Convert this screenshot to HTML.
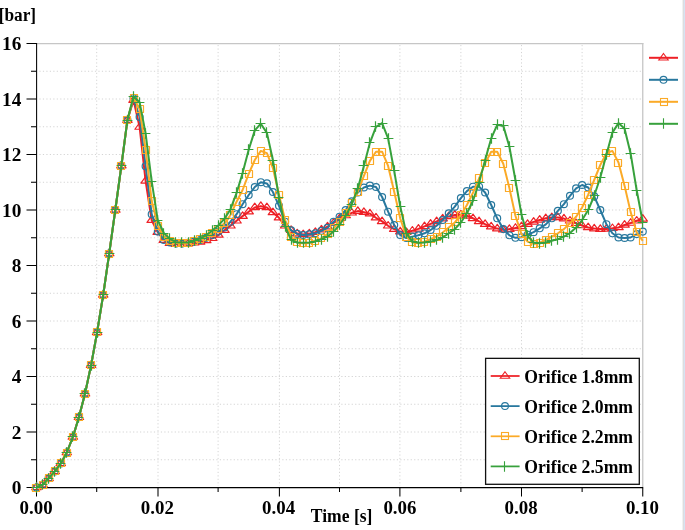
<!DOCTYPE html>
<html><head><meta charset="utf-8"><title>Pressure plot</title>
<style>
html,body{margin:0;padding:0;background:#fff;}
body{width:685px;height:530px;overflow:hidden;}
svg{display:block;}
text{font-family:"Liberation Serif","DejaVu Serif",serif;font-weight:bold;font-size:17.5px;fill:#000;}
</style></head><body>
<svg width="685" height="530" viewBox="0 0 685 530">
<rect x="0" y="0" width="685" height="530" fill="#ffffff"/>
<rect x="682" y="0" width="1" height="530" fill="#f1f1f1"/>
<rect x="683" y="0" width="1" height="530" fill="#dcdde0"/>
<rect x="684" y="0" width="1" height="530" fill="#d6e3f3"/>
<g stroke="#d4d4d4" stroke-width="1" stroke-dasharray="1.2 2.27" fill="none"><line x1="39.4" y1="459.75" x2="642" y2="459.75"/><line x1="39.4" y1="432.00" x2="642" y2="432.00"/><line x1="39.4" y1="404.25" x2="642" y2="404.25"/><line x1="39.4" y1="376.50" x2="642" y2="376.50"/><line x1="39.4" y1="348.75" x2="642" y2="348.75"/><line x1="39.4" y1="321.00" x2="642" y2="321.00"/><line x1="39.4" y1="293.25" x2="642" y2="293.25"/><line x1="39.4" y1="265.50" x2="642" y2="265.50"/><line x1="39.4" y1="237.75" x2="642" y2="237.75"/><line x1="39.4" y1="210.00" x2="642" y2="210.00"/><line x1="39.4" y1="182.25" x2="642" y2="182.25"/><line x1="39.4" y1="154.50" x2="642" y2="154.50"/><line x1="39.4" y1="126.75" x2="642" y2="126.75"/><line x1="39.4" y1="99.00" x2="642" y2="99.00"/><line x1="39.4" y1="71.25" x2="642" y2="71.25"/><line x1="96.70" y1="45" x2="96.70" y2="486"/><line x1="158.00" y1="45" x2="158.00" y2="486"/><line x1="218.10" y1="45" x2="218.10" y2="486"/><line x1="279.40" y1="45" x2="279.40" y2="486"/><line x1="339.50" y1="45" x2="339.50" y2="486"/><line x1="399.90" y1="45" x2="399.90" y2="486"/><line x1="460.88" y1="45" x2="460.88" y2="486"/><line x1="521.50" y1="45" x2="521.50" y2="486"/><line x1="582.12" y1="45" x2="582.12" y2="486"/></g>
<g stroke="#c6c6c6" stroke-width="1.3" fill="none"><line x1="37" y1="43.6" x2="643.4" y2="43.6"/><line x1="642.75" y1="43" x2="642.75" y2="487"/></g>
<g stroke="#000" stroke-width="1.05" fill="none"><line x1="36.6" y1="43" x2="36.6" y2="488"/><line x1="36" y1="487.6" x2="643.2" y2="487.6"/><line x1="26.5" y1="487.50" x2="36.6" y2="487.50"/><line x1="31" y1="459.75" x2="36.6" y2="459.75"/><line x1="26.5" y1="432.00" x2="36.6" y2="432.00"/><line x1="31" y1="404.25" x2="36.6" y2="404.25"/><line x1="26.5" y1="376.50" x2="36.6" y2="376.50"/><line x1="31" y1="348.75" x2="36.6" y2="348.75"/><line x1="26.5" y1="321.00" x2="36.6" y2="321.00"/><line x1="31" y1="293.25" x2="36.6" y2="293.25"/><line x1="26.5" y1="265.50" x2="36.6" y2="265.50"/><line x1="31" y1="237.75" x2="36.6" y2="237.75"/><line x1="26.5" y1="210.00" x2="36.6" y2="210.00"/><line x1="31" y1="182.25" x2="36.6" y2="182.25"/><line x1="26.5" y1="154.50" x2="36.6" y2="154.50"/><line x1="31" y1="126.75" x2="36.6" y2="126.75"/><line x1="26.5" y1="99.00" x2="36.6" y2="99.00"/><line x1="31" y1="71.25" x2="36.6" y2="71.25"/><line x1="26.5" y1="43.50" x2="36.6" y2="43.50"/><line x1="36.50" y1="487.6" x2="36.50" y2="496.5"/><line x1="96.70" y1="487.6" x2="96.70" y2="492"/><line x1="158.00" y1="487.6" x2="158.00" y2="496.5"/><line x1="218.10" y1="487.6" x2="218.10" y2="492"/><line x1="279.40" y1="487.6" x2="279.40" y2="496.5"/><line x1="339.50" y1="487.6" x2="339.50" y2="492"/><line x1="399.90" y1="487.6" x2="399.90" y2="496.5"/><line x1="460.88" y1="487.6" x2="460.88" y2="492"/><line x1="521.50" y1="487.6" x2="521.50" y2="496.5"/><line x1="582.12" y1="487.6" x2="582.12" y2="492"/><line x1="642.75" y1="487.6" x2="642.75" y2="496.5"/></g>
<text transform="translate(21.3 494.1) scale(0.99 1)" style="font-size:19.5px" text-anchor="end">0</text><text transform="translate(21.3 438.6) scale(0.99 1)" style="font-size:19.5px" text-anchor="end">2</text><text transform="translate(21.3 383.1) scale(0.99 1)" style="font-size:19.5px" text-anchor="end">4</text><text transform="translate(21.3 327.6) scale(0.99 1)" style="font-size:19.5px" text-anchor="end">6</text><text transform="translate(21.3 272.1) scale(0.99 1)" style="font-size:19.5px" text-anchor="end">8</text><text transform="translate(21.3 216.6) scale(0.99 1)" style="font-size:19.5px" text-anchor="end">10</text><text transform="translate(21.3 161.1) scale(0.99 1)" style="font-size:19.5px" text-anchor="end">12</text><text transform="translate(21.3 105.6) scale(0.99 1)" style="font-size:19.5px" text-anchor="end">14</text><text transform="translate(21.3 50.1) scale(0.99 1)" style="font-size:19.5px" text-anchor="end">16</text><text transform="translate(36.1 513.8) scale(0.97 1)" style="font-size:19.5px" text-anchor="middle">0.00</text><text transform="translate(157.3 513.8) scale(0.97 1)" style="font-size:19.5px" text-anchor="middle">0.02</text><text transform="translate(278.6 513.8) scale(0.97 1)" style="font-size:19.5px" text-anchor="middle">0.04</text><text transform="translate(399.9 513.8) scale(0.97 1)" style="font-size:19.5px" text-anchor="middle">0.06</text><text transform="translate(521.1 513.8) scale(0.97 1)" style="font-size:19.5px" text-anchor="middle">0.08</text><text transform="translate(642.4 513.8) scale(0.97 1)" style="font-size:19.5px" text-anchor="middle">0.10</text><text transform="translate(-1.3 20.8) scale(0.885 1)" style="font-size:19.5px" text-anchor="start">[bar]</text><text transform="translate(341.6 521.5) scale(0.9 1)" style="font-size:19.5px" text-anchor="middle">Time [s]</text>
<g stroke="#ee2026" fill="none" stroke-linejoin="round"><polyline stroke-width="2" points="36.5,487.5 42.6,484.7 48.6,478.3 54.7,471.4 60.8,463.4 66.8,452.5 72.9,437.0 78.9,417.3 85.0,393.7 91.1,365.1 97.1,332.4 103.2,294.9 109.2,253.6 115.3,210.0 121.4,165.6 127.4,120.1 133.5,100.1 139.6,127.0 145.6,180.9 151.7,220.3 157.8,232.2 163.8,240.2 169.9,243.3 175.9,244.1 182.0,244.1 188.1,243.6 194.1,242.7 200.2,241.9 206.2,240.5 212.3,238.3 218.4,235.0 224.4,230.3 230.5,225.8 236.6,220.8 242.6,216.1 248.7,211.7 254.8,207.5 260.8,206.1 266.9,207.5 272.9,212.5 279.0,217.8 285.1,225.8 291.1,230.3 297.2,233.6 303.2,234.4 309.3,233.6 315.4,232.2 321.4,229.7 327.5,226.6 333.6,223.0 339.6,218.3 345.7,215.6 351.8,212.8 357.8,211.1 363.9,212.2 369.9,213.6 376.0,217.8 382.1,221.4 388.1,225.8 394.2,229.1 400.2,231.6 406.3,232.2 412.4,230.8 418.4,228.9 424.5,226.4 430.6,223.9 436.6,221.4 442.7,218.6 448.8,216.4 454.8,215.0 460.9,214.7 466.9,215.8 473.0,218.3 479.1,221.4 485.1,224.2 491.2,226.6 497.2,228.6 503.3,229.7 509.4,229.1 515.4,228.0 521.5,226.4 527.6,224.2 533.6,221.9 539.7,220.0 545.8,218.3 551.8,217.5 557.9,217.5 563.9,218.6 570.0,220.8 576.1,223.3 582.1,225.5 588.2,227.5 594.2,228.6 600.3,229.1 606.4,228.9 612.4,228.3 618.5,227.5 624.6,225.0 630.6,223.0 636.7,220.8 642.8,218.9"/><g stroke-width="1.2"><path d="M36.50 483.20L41.20 489.70L31.80 489.70Z"/><path d="M42.56 480.43L47.26 486.93L37.86 486.93Z"/><path d="M48.62 474.04L53.33 480.54L43.92 480.54Z"/><path d="M54.69 467.10L59.39 473.60L49.99 473.60Z"/><path d="M60.75 459.06L65.45 465.56L56.05 465.56Z"/><path d="M66.81 448.23L71.51 454.73L62.11 454.73Z"/><path d="M72.88 432.69L77.58 439.19L68.17 439.19Z"/><path d="M78.94 412.99L83.64 419.49L74.24 419.49Z"/><path d="M85.00 389.40L89.70 395.90L80.30 395.90Z"/><path d="M91.06 360.82L95.76 367.32L86.36 367.32Z"/><path d="M97.12 328.08L101.83 334.58L92.42 334.58Z"/><path d="M103.19 290.61L107.89 297.11L98.49 297.11Z"/><path d="M109.25 249.27L113.95 255.77L104.55 255.77Z"/><path d="M115.31 205.70L120.01 212.20L110.61 212.20Z"/><path d="M121.38 161.30L126.08 167.80L116.67 167.80Z"/><path d="M127.44 115.79L132.14 122.29L122.74 122.29Z"/><path d="M133.50 95.81L138.20 102.31L128.80 102.31Z"/><path d="M139.56 122.73L144.26 129.23L134.86 129.23Z"/><path d="M145.62 176.56L150.32 183.06L140.93 183.06Z"/><path d="M151.69 215.97L156.39 222.47L146.99 222.47Z"/><path d="M157.75 227.90L162.45 234.40L153.05 234.40Z"/><path d="M163.81 235.95L168.51 242.45L159.11 242.45Z"/><path d="M169.88 239.00L174.57 245.50L165.18 245.50Z"/><path d="M175.94 239.83L180.64 246.33L171.24 246.33Z"/><path d="M182.00 239.83L186.70 246.33L177.30 246.33Z"/><path d="M188.06 239.28L192.76 245.78L183.36 245.78Z"/><path d="M194.12 238.44L198.82 244.94L189.43 244.94Z"/><path d="M200.19 237.61L204.89 244.11L195.49 244.11Z"/><path d="M206.25 236.22L210.95 242.72L201.55 242.72Z"/><path d="M212.31 234.00L217.01 240.50L207.61 240.50Z"/><path d="M218.38 230.68L223.07 237.18L213.68 237.18Z"/><path d="M224.44 225.96L229.14 232.46L219.74 232.46Z"/><path d="M230.50 221.52L235.20 228.02L225.80 228.02Z"/><path d="M236.56 216.52L241.26 223.02L231.86 223.02Z"/><path d="M242.62 211.81L247.32 218.31L237.93 218.31Z"/><path d="M248.69 207.37L253.39 213.87L243.99 213.87Z"/><path d="M254.75 203.20L259.45 209.70L250.05 209.70Z"/><path d="M260.81 201.81L265.51 208.31L256.11 208.31Z"/><path d="M266.88 203.20L271.57 209.70L262.18 209.70Z"/><path d="M272.94 208.20L277.64 214.70L268.24 214.70Z"/><path d="M279.00 213.47L283.70 219.97L274.30 219.97Z"/><path d="M285.06 221.52L289.76 228.02L280.36 228.02Z"/><path d="M291.12 225.96L295.82 232.46L286.43 232.46Z"/><path d="M297.19 229.29L301.89 235.79L292.49 235.79Z"/><path d="M303.25 230.12L307.95 236.62L298.55 236.62Z"/><path d="M309.31 229.29L314.01 235.79L304.61 235.79Z"/><path d="M315.38 227.90L320.07 234.40L310.68 234.40Z"/><path d="M321.44 225.40L326.14 231.90L316.74 231.90Z"/><path d="M327.50 222.35L332.20 228.85L322.80 228.85Z"/><path d="M333.56 218.74L338.26 225.24L328.86 225.24Z"/><path d="M339.62 214.03L344.32 220.53L334.93 220.53Z"/><path d="M345.69 211.25L350.39 217.75L340.99 217.75Z"/><path d="M351.75 208.48L356.45 214.98L347.05 214.98Z"/><path d="M357.81 206.81L362.51 213.31L353.11 213.31Z"/><path d="M363.88 207.92L368.57 214.42L359.18 214.42Z"/><path d="M369.94 209.31L374.64 215.81L365.24 215.81Z"/><path d="M376.00 213.47L380.70 219.97L371.30 219.97Z"/><path d="M382.06 217.08L386.76 223.58L377.36 223.58Z"/><path d="M388.12 221.52L392.82 228.02L383.43 228.02Z"/><path d="M394.19 224.85L398.89 231.35L389.49 231.35Z"/><path d="M400.25 227.34L404.95 233.84L395.55 233.84Z"/><path d="M406.31 227.90L411.01 234.40L401.61 234.40Z"/><path d="M412.38 226.51L417.07 233.01L407.68 233.01Z"/><path d="M418.44 224.57L423.14 231.07L413.74 231.07Z"/><path d="M424.50 222.07L429.20 228.57L419.80 228.57Z"/><path d="M430.56 219.57L435.26 226.07L425.86 226.07Z"/><path d="M436.62 217.08L441.32 223.58L431.93 223.58Z"/><path d="M442.69 214.30L447.39 220.80L437.99 220.80Z"/><path d="M448.75 212.08L453.45 218.58L444.05 218.58Z"/><path d="M454.81 210.69L459.51 217.19L450.11 217.19Z"/><path d="M460.88 210.42L465.57 216.92L456.18 216.92Z"/><path d="M466.94 211.53L471.64 218.03L462.24 218.03Z"/><path d="M473.00 214.03L477.70 220.53L468.30 220.53Z"/><path d="M479.06 217.08L483.76 223.58L474.36 223.58Z"/><path d="M485.12 219.85L489.82 226.35L480.43 226.35Z"/><path d="M491.19 222.35L495.89 228.85L486.49 228.85Z"/><path d="M497.25 224.29L501.95 230.79L492.55 230.79Z"/><path d="M503.31 225.40L508.01 231.90L498.61 231.90Z"/><path d="M509.38 224.85L514.08 231.35L504.68 231.35Z"/><path d="M515.44 223.74L520.14 230.24L510.74 230.24Z"/><path d="M521.50 222.07L526.20 228.57L516.80 228.57Z"/><path d="M527.56 219.85L532.26 226.35L522.86 226.35Z"/><path d="M533.62 217.63L538.33 224.13L528.92 224.13Z"/><path d="M539.69 215.69L544.39 222.19L534.99 222.19Z"/><path d="M545.75 214.03L550.45 220.53L541.05 220.53Z"/><path d="M551.81 213.19L556.51 219.69L547.11 219.69Z"/><path d="M557.88 213.19L562.58 219.69L553.17 219.69Z"/><path d="M563.94 214.30L568.64 220.80L559.24 220.80Z"/><path d="M570.00 216.52L574.70 223.02L565.30 223.02Z"/><path d="M576.06 219.02L580.76 225.52L571.36 225.52Z"/><path d="M582.12 221.24L586.83 227.74L577.42 227.74Z"/><path d="M588.19 223.18L592.89 229.68L583.49 229.68Z"/><path d="M594.25 224.29L598.95 230.79L589.55 230.79Z"/><path d="M600.31 224.85L605.01 231.35L595.61 231.35Z"/><path d="M606.38 224.57L611.08 231.07L601.67 231.07Z"/><path d="M612.44 224.01L617.14 230.51L607.74 230.51Z"/><path d="M618.50 223.18L623.20 229.68L613.80 229.68Z"/><path d="M624.56 220.68L629.26 227.18L619.86 227.18Z"/><path d="M630.62 218.74L635.33 225.24L625.92 225.24Z"/><path d="M636.69 216.52L641.39 223.02L631.99 223.02Z"/><path d="M642.75 214.58L647.45 221.08L638.05 221.08Z"/></g></g>
<g stroke="#28789e" fill="none" stroke-linejoin="round"><polyline stroke-width="2" points="36.5,487.5 42.6,484.7 48.6,478.3 54.7,471.4 60.8,463.4 66.8,452.5 72.9,437.0 78.9,417.3 85.0,393.7 91.1,365.1 97.1,332.4 103.2,294.9 109.2,253.6 115.3,210.0 121.4,165.6 127.4,120.1 133.5,98.2 139.6,117.0 145.6,166.2 151.7,214.2 157.8,231.6 163.8,240.0 169.9,242.5 175.9,243.6 182.0,243.6 188.1,242.7 194.1,241.6 200.2,240.0 206.2,237.8 212.3,235.0 218.4,231.6 224.4,227.5 230.5,221.7 236.6,214.2 242.6,204.2 248.7,195.0 254.8,187.0 260.8,182.2 266.9,183.4 272.9,192.0 279.0,205.8 285.1,221.7 291.1,230.3 297.2,233.9 303.2,235.0 309.3,234.4 315.4,233.3 321.4,230.8 327.5,227.8 333.6,221.7 339.6,216.7 345.7,210.0 351.8,201.4 357.8,192.5 363.9,187.5 369.9,185.6 376.0,187.0 382.1,197.0 388.1,211.7 394.2,225.0 400.2,235.0 406.3,238.0 412.4,236.6 418.4,235.3 424.5,233.3 430.6,230.0 436.6,225.8 442.7,220.0 448.8,213.3 454.8,206.7 460.9,198.1 466.9,191.1 473.0,186.7 479.1,186.7 485.1,192.5 491.2,205.0 497.2,218.3 503.3,229.1 509.4,235.3 515.4,237.8 521.5,237.2 527.6,234.7 533.6,232.2 539.7,228.3 545.8,224.4 551.8,218.3 557.9,210.8 563.9,204.2 570.0,195.8 576.1,188.4 582.1,185.0 588.2,187.5 594.2,196.4 600.3,210.0 606.4,224.2 612.4,233.3 618.5,237.5 624.6,238.0 630.6,237.5 636.7,234.1 642.8,231.6"/><g stroke-width="1.2"><circle cx="36.5" cy="487.5" r="3.45"/><circle cx="42.6" cy="484.7" r="3.45"/><circle cx="48.6" cy="478.3" r="3.45"/><circle cx="54.7" cy="471.4" r="3.45"/><circle cx="60.8" cy="463.4" r="3.45"/><circle cx="66.8" cy="452.5" r="3.45"/><circle cx="72.9" cy="437.0" r="3.45"/><circle cx="78.9" cy="417.3" r="3.45"/><circle cx="85.0" cy="393.7" r="3.45"/><circle cx="91.1" cy="365.1" r="3.45"/><circle cx="97.1" cy="332.4" r="3.45"/><circle cx="103.2" cy="294.9" r="3.45"/><circle cx="109.2" cy="253.6" r="3.45"/><circle cx="115.3" cy="210.0" r="3.45"/><circle cx="121.4" cy="165.6" r="3.45"/><circle cx="127.4" cy="120.1" r="3.45"/><circle cx="133.5" cy="98.2" r="3.45"/><circle cx="139.6" cy="117.0" r="3.45"/><circle cx="145.6" cy="166.2" r="3.45"/><circle cx="151.7" cy="214.2" r="3.45"/><circle cx="157.8" cy="231.6" r="3.45"/><circle cx="163.8" cy="240.0" r="3.45"/><circle cx="169.9" cy="242.5" r="3.45"/><circle cx="175.9" cy="243.6" r="3.45"/><circle cx="182.0" cy="243.6" r="3.45"/><circle cx="188.1" cy="242.7" r="3.45"/><circle cx="194.1" cy="241.6" r="3.45"/><circle cx="200.2" cy="240.0" r="3.45"/><circle cx="206.2" cy="237.8" r="3.45"/><circle cx="212.3" cy="235.0" r="3.45"/><circle cx="218.4" cy="231.6" r="3.45"/><circle cx="224.4" cy="227.5" r="3.45"/><circle cx="230.5" cy="221.7" r="3.45"/><circle cx="236.6" cy="214.2" r="3.45"/><circle cx="242.6" cy="204.2" r="3.45"/><circle cx="248.7" cy="195.0" r="3.45"/><circle cx="254.8" cy="187.0" r="3.45"/><circle cx="260.8" cy="182.2" r="3.45"/><circle cx="266.9" cy="183.4" r="3.45"/><circle cx="272.9" cy="192.0" r="3.45"/><circle cx="279.0" cy="205.8" r="3.45"/><circle cx="285.1" cy="221.7" r="3.45"/><circle cx="291.1" cy="230.3" r="3.45"/><circle cx="297.2" cy="233.9" r="3.45"/><circle cx="303.2" cy="235.0" r="3.45"/><circle cx="309.3" cy="234.4" r="3.45"/><circle cx="315.4" cy="233.3" r="3.45"/><circle cx="321.4" cy="230.8" r="3.45"/><circle cx="327.5" cy="227.8" r="3.45"/><circle cx="333.6" cy="221.7" r="3.45"/><circle cx="339.6" cy="216.7" r="3.45"/><circle cx="345.7" cy="210.0" r="3.45"/><circle cx="351.8" cy="201.4" r="3.45"/><circle cx="357.8" cy="192.5" r="3.45"/><circle cx="363.9" cy="187.5" r="3.45"/><circle cx="369.9" cy="185.6" r="3.45"/><circle cx="376.0" cy="187.0" r="3.45"/><circle cx="382.1" cy="197.0" r="3.45"/><circle cx="388.1" cy="211.7" r="3.45"/><circle cx="394.2" cy="225.0" r="3.45"/><circle cx="400.2" cy="235.0" r="3.45"/><circle cx="406.3" cy="238.0" r="3.45"/><circle cx="412.4" cy="236.6" r="3.45"/><circle cx="418.4" cy="235.3" r="3.45"/><circle cx="424.5" cy="233.3" r="3.45"/><circle cx="430.6" cy="230.0" r="3.45"/><circle cx="436.6" cy="225.8" r="3.45"/><circle cx="442.7" cy="220.0" r="3.45"/><circle cx="448.8" cy="213.3" r="3.45"/><circle cx="454.8" cy="206.7" r="3.45"/><circle cx="460.9" cy="198.1" r="3.45"/><circle cx="466.9" cy="191.1" r="3.45"/><circle cx="473.0" cy="186.7" r="3.45"/><circle cx="479.1" cy="186.7" r="3.45"/><circle cx="485.1" cy="192.5" r="3.45"/><circle cx="491.2" cy="205.0" r="3.45"/><circle cx="497.2" cy="218.3" r="3.45"/><circle cx="503.3" cy="229.1" r="3.45"/><circle cx="509.4" cy="235.3" r="3.45"/><circle cx="515.4" cy="237.8" r="3.45"/><circle cx="521.5" cy="237.2" r="3.45"/><circle cx="527.6" cy="234.7" r="3.45"/><circle cx="533.6" cy="232.2" r="3.45"/><circle cx="539.7" cy="228.3" r="3.45"/><circle cx="545.8" cy="224.4" r="3.45"/><circle cx="551.8" cy="218.3" r="3.45"/><circle cx="557.9" cy="210.8" r="3.45"/><circle cx="563.9" cy="204.2" r="3.45"/><circle cx="570.0" cy="195.8" r="3.45"/><circle cx="576.1" cy="188.4" r="3.45"/><circle cx="582.1" cy="185.0" r="3.45"/><circle cx="588.2" cy="187.5" r="3.45"/><circle cx="594.2" cy="196.4" r="3.45"/><circle cx="600.3" cy="210.0" r="3.45"/><circle cx="606.4" cy="224.2" r="3.45"/><circle cx="612.4" cy="233.3" r="3.45"/><circle cx="618.5" cy="237.5" r="3.45"/><circle cx="624.6" cy="238.0" r="3.45"/><circle cx="630.6" cy="237.5" r="3.45"/><circle cx="636.7" cy="234.1" r="3.45"/><circle cx="642.8" cy="231.6" r="3.45"/></g></g>
<g stroke="#fbaa27" fill="none" stroke-linejoin="round"><polyline stroke-width="2" points="36.5,487.5 42.6,484.7 48.6,478.3 54.7,471.4 60.8,463.4 66.8,452.5 72.9,437.0 78.9,417.3 85.0,393.7 91.1,365.1 97.1,332.4 103.2,294.9 109.2,253.6 115.3,210.0 121.4,165.6 127.4,120.1 133.5,97.6 139.6,109.0 145.6,149.5 151.7,200.8 157.8,225.8 163.8,236.6 169.9,241.1 175.9,243.0 182.0,243.3 188.1,242.7 194.1,241.4 200.2,239.1 206.2,236.6 212.3,233.3 218.4,229.1 224.4,223.3 230.5,215.0 236.6,201.7 242.6,190.0 248.7,173.9 254.8,160.0 260.8,150.9 266.9,153.1 272.9,168.1 279.0,194.7 285.1,220.0 291.1,236.6 297.2,242.5 303.2,243.3 309.3,243.0 315.4,240.8 321.4,238.3 327.5,234.1 333.6,228.3 339.6,221.7 345.7,213.3 351.8,203.3 357.8,191.7 363.9,175.9 369.9,160.9 376.0,151.7 382.1,151.7 388.1,165.9 394.2,191.7 400.2,218.3 406.3,236.6 412.4,242.5 418.4,243.3 424.5,241.6 430.6,239.1 436.6,236.6 442.7,232.5 448.8,227.5 454.8,222.5 460.9,215.0 466.9,205.0 473.0,192.8 479.1,178.4 485.1,163.4 491.2,151.7 497.2,151.7 503.3,163.7 509.4,188.1 515.4,215.8 521.5,234.1 527.6,241.6 533.6,243.9 539.7,242.7 545.8,240.0 551.8,236.6 557.9,233.3 563.9,229.1 570.0,223.3 576.1,216.7 582.1,207.5 588.2,194.7 594.2,180.0 600.3,165.0 606.4,153.1 612.4,150.9 618.5,162.5 624.6,185.9 630.6,211.9 636.7,232.5 642.8,240.8"/><g stroke-width="1.2"><rect x="32.5" y="484.5" width="7" height="7"/><rect x="39.5" y="481.5" width="7" height="7"/><rect x="45.5" y="474.5" width="7" height="7"/><rect x="51.5" y="467.5" width="7" height="7"/><rect x="57.5" y="459.5" width="7" height="7"/><rect x="63.5" y="449.5" width="7" height="7"/><rect x="69.5" y="433.5" width="7" height="7"/><rect x="75.5" y="413.5" width="7" height="7"/><rect x="81.5" y="390.5" width="7" height="7"/><rect x="87.5" y="361.5" width="7" height="7"/><rect x="93.5" y="328.5" width="7" height="7"/><rect x="99.5" y="291.5" width="7" height="7"/><rect x="105.5" y="250.5" width="7" height="7"/><rect x="111.5" y="206.5" width="7" height="7"/><rect x="117.5" y="162.5" width="7" height="7"/><rect x="123.5" y="116.5" width="7" height="7"/><rect x="130.5" y="94.5" width="7" height="7"/><rect x="136.5" y="105.5" width="7" height="7"/><rect x="142.5" y="146.5" width="7" height="7"/><rect x="148.5" y="197.5" width="7" height="7"/><rect x="154.5" y="222.5" width="7" height="7"/><rect x="160.5" y="233.5" width="7" height="7"/><rect x="166.5" y="237.5" width="7" height="7"/><rect x="172.5" y="239.5" width="7" height="7"/><rect x="178.5" y="239.5" width="7" height="7"/><rect x="184.5" y="239.5" width="7" height="7"/><rect x="190.5" y="237.5" width="7" height="7"/><rect x="196.5" y="235.5" width="7" height="7"/><rect x="202.5" y="233.5" width="7" height="7"/><rect x="208.5" y="229.5" width="7" height="7"/><rect x="214.5" y="225.5" width="7" height="7"/><rect x="220.5" y="219.5" width="7" height="7"/><rect x="226.5" y="211.5" width="7" height="7"/><rect x="233.5" y="198.5" width="7" height="7"/><rect x="239.5" y="186.5" width="7" height="7"/><rect x="245.5" y="170.5" width="7" height="7"/><rect x="251.5" y="156.5" width="7" height="7"/><rect x="257.5" y="147.5" width="7" height="7"/><rect x="263.5" y="149.5" width="7" height="7"/><rect x="269.5" y="164.5" width="7" height="7"/><rect x="275.5" y="191.5" width="7" height="7"/><rect x="281.5" y="216.5" width="7" height="7"/><rect x="287.5" y="233.5" width="7" height="7"/><rect x="293.5" y="238.5" width="7" height="7"/><rect x="299.5" y="239.5" width="7" height="7"/><rect x="305.5" y="239.5" width="7" height="7"/><rect x="311.5" y="237.5" width="7" height="7"/><rect x="317.5" y="234.5" width="7" height="7"/><rect x="324.5" y="230.5" width="7" height="7"/><rect x="330.5" y="224.5" width="7" height="7"/><rect x="336.5" y="218.5" width="7" height="7"/><rect x="342.5" y="209.5" width="7" height="7"/><rect x="348.5" y="199.5" width="7" height="7"/><rect x="354.5" y="188.5" width="7" height="7"/><rect x="360.5" y="172.5" width="7" height="7"/><rect x="366.5" y="157.5" width="7" height="7"/><rect x="372.5" y="148.5" width="7" height="7"/><rect x="378.5" y="148.5" width="7" height="7"/><rect x="384.5" y="162.5" width="7" height="7"/><rect x="390.5" y="188.5" width="7" height="7"/><rect x="396.5" y="214.5" width="7" height="7"/><rect x="402.5" y="233.5" width="7" height="7"/><rect x="408.5" y="238.5" width="7" height="7"/><rect x="414.5" y="239.5" width="7" height="7"/><rect x="420.5" y="238.5" width="7" height="7"/><rect x="427.5" y="235.5" width="7" height="7"/><rect x="433.5" y="233.5" width="7" height="7"/><rect x="439.5" y="228.5" width="7" height="7"/><rect x="445.5" y="223.5" width="7" height="7"/><rect x="451.5" y="218.5" width="7" height="7"/><rect x="457.5" y="211.5" width="7" height="7"/><rect x="463.5" y="201.5" width="7" height="7"/><rect x="469.5" y="189.5" width="7" height="7"/><rect x="475.5" y="174.5" width="7" height="7"/><rect x="481.5" y="159.5" width="7" height="7"/><rect x="487.5" y="148.5" width="7" height="7"/><rect x="493.5" y="148.5" width="7" height="7"/><rect x="499.5" y="160.5" width="7" height="7"/><rect x="505.5" y="184.5" width="7" height="7"/><rect x="511.5" y="212.5" width="7" height="7"/><rect x="518.5" y="230.5" width="7" height="7"/><rect x="524.5" y="238.5" width="7" height="7"/><rect x="530.5" y="240.5" width="7" height="7"/><rect x="536.5" y="239.5" width="7" height="7"/><rect x="542.5" y="236.5" width="7" height="7"/><rect x="548.5" y="233.5" width="7" height="7"/><rect x="554.5" y="229.5" width="7" height="7"/><rect x="560.5" y="225.5" width="7" height="7"/><rect x="566.5" y="219.5" width="7" height="7"/><rect x="572.5" y="213.5" width="7" height="7"/><rect x="578.5" y="204.5" width="7" height="7"/><rect x="584.5" y="191.5" width="7" height="7"/><rect x="590.5" y="176.5" width="7" height="7"/><rect x="596.5" y="161.5" width="7" height="7"/><rect x="602.5" y="149.5" width="7" height="7"/><rect x="608.5" y="147.5" width="7" height="7"/><rect x="614.5" y="159.5" width="7" height="7"/><rect x="621.5" y="182.5" width="7" height="7"/><rect x="627.5" y="208.5" width="7" height="7"/><rect x="633.5" y="228.5" width="7" height="7"/><rect x="639.5" y="237.5" width="7" height="7"/></g></g>
<g stroke="#37a13c" fill="none" stroke-linejoin="round"><polyline stroke-width="2" points="36.5,487.5 42.6,484.7 48.6,478.3 54.7,471.4 60.8,463.4 66.8,452.5 72.9,437.0 78.9,417.3 85.0,393.7 91.1,365.1 97.1,332.4 103.2,294.9 109.2,253.6 115.3,210.0 121.4,165.6 127.4,120.1 133.5,96.5 139.6,102.3 145.6,133.4 151.7,181.4 157.8,220.3 163.8,233.0 169.9,238.9 175.9,242.2 182.0,242.5 188.1,242.2 194.1,240.8 200.2,238.3 206.2,235.3 212.3,230.5 218.4,225.3 224.4,218.9 230.5,209.2 236.6,192.8 242.6,173.1 248.7,149.8 254.8,130.4 260.8,123.7 266.9,132.9 272.9,160.0 279.0,197.5 285.1,226.6 291.1,240.0 297.2,242.5 303.2,242.7 309.3,242.5 315.4,241.4 321.4,239.1 327.5,236.6 333.6,231.6 339.6,225.0 345.7,215.8 351.8,204.2 357.8,188.4 363.9,165.9 369.9,142.8 376.0,126.8 382.1,123.1 388.1,138.4 394.2,170.9 400.2,206.1 406.3,233.3 412.4,241.6 418.4,242.7 424.5,242.5 430.6,241.6 436.6,240.0 442.7,237.5 448.8,233.3 454.8,229.1 460.9,222.5 466.9,213.3 473.0,200.8 479.1,182.5 485.1,160.0 491.2,138.4 497.2,124.8 503.3,125.9 509.4,146.7 515.4,180.0 521.5,214.7 527.6,235.8 533.6,242.5 539.7,243.3 545.8,242.5 551.8,240.8 557.9,239.1 563.9,236.6 570.0,233.0 576.1,227.5 582.1,220.0 588.2,210.0 594.2,195.8 600.3,177.5 606.4,154.8 612.4,132.6 618.5,123.1 624.6,128.7 630.6,153.4 636.7,190.3 642.8,222.5"/><g stroke-width="1.2"><path d="M31.6 487.5H41.4M36.5 482.2V492.8"/><path d="M37.6 484.5H47.4M42.5 479.2V489.8"/><path d="M43.6 478.5H53.4M48.5 473.2V483.8"/><path d="M49.6 471.5H59.4M54.5 466.2V476.8"/><path d="M55.6 463.5H65.4M60.5 458.2V468.8"/><path d="M61.6 452.5H71.4M66.5 447.2V457.8"/><path d="M67.6 436.5H77.4M72.5 431.2V441.8"/><path d="M73.6 417.5H83.4M78.5 412.2V422.8"/><path d="M79.6 393.5H89.4M84.5 388.2V398.8"/><path d="M86.6 365.5H96.4M91.5 360.2V370.8"/><path d="M92.6 332.5H102.4M97.5 327.2V337.8"/><path d="M98.6 294.5H108.4M103.5 289.2V299.8"/><path d="M104.6 253.5H114.4M109.5 248.2V258.8"/><path d="M110.6 209.5H120.4M115.5 204.2V214.8"/><path d="M116.6 165.5H126.4M121.5 160.2V170.8"/><path d="M122.6 120.5H132.4M127.5 115.2V125.8"/><path d="M128.6 96.5H138.4M133.5 91.2V101.8"/><path d="M134.6 102.5H144.4M139.5 97.2V107.8"/><path d="M140.6 133.5H150.4M145.5 128.2V138.8"/><path d="M146.6 181.5H156.4M151.5 176.2V186.8"/><path d="M152.6 220.5H162.4M157.5 215.2V225.8"/><path d="M158.6 233.5H168.4M163.5 228.2V238.8"/><path d="M164.6 238.5H174.4M169.5 233.2V243.8"/><path d="M170.6 242.5H180.4M175.5 237.2V247.8"/><path d="M176.6 242.5H186.4M181.5 237.2V247.8"/><path d="M183.6 242.5H193.4M188.5 237.2V247.8"/><path d="M189.6 240.5H199.4M194.5 235.2V245.8"/><path d="M195.6 238.5H205.4M200.5 233.2V243.8"/><path d="M201.6 235.5H211.4M206.5 230.2V240.8"/><path d="M207.6 230.5H217.4M212.5 225.2V235.8"/><path d="M213.6 225.5H223.4M218.5 220.2V230.8"/><path d="M219.6 218.5H229.4M224.5 213.2V223.8"/><path d="M225.6 209.5H235.4M230.5 204.2V214.8"/><path d="M231.6 192.5H241.4M236.5 187.2V197.8"/><path d="M237.6 173.5H247.4M242.5 168.2V178.8"/><path d="M243.6 149.5H253.4M248.5 144.2V154.8"/><path d="M249.6 130.5H259.4M254.5 125.2V135.8"/><path d="M255.6 123.5H265.4M260.5 118.2V128.8"/><path d="M261.6 132.5H271.4M266.5 127.2V137.8"/><path d="M267.6 160.5H277.4M272.5 155.2V165.8"/><path d="M273.6 197.5H283.4M278.5 192.2V202.8"/><path d="M280.6 226.5H290.4M285.5 221.2V231.8"/><path d="M286.6 239.5H296.4M291.5 234.2V244.8"/><path d="M292.6 242.5H302.4M297.5 237.2V247.8"/><path d="M298.6 242.5H308.4M303.5 237.2V247.8"/><path d="M304.6 242.5H314.4M309.5 237.2V247.8"/><path d="M310.6 241.5H320.4M315.5 236.2V246.8"/><path d="M316.6 239.5H326.4M321.5 234.2V244.8"/><path d="M322.6 236.5H332.4M327.5 231.2V241.8"/><path d="M328.6 231.5H338.4M333.5 226.2V236.8"/><path d="M334.6 224.5H344.4M339.5 219.2V229.8"/><path d="M340.6 215.5H350.4M345.5 210.2V220.8"/><path d="M346.6 204.5H356.4M351.5 199.2V209.8"/><path d="M352.6 188.5H362.4M357.5 183.2V193.8"/><path d="M358.6 165.5H368.4M363.5 160.2V170.8"/><path d="M364.6 142.5H374.4M369.5 137.2V147.8"/><path d="M370.6 126.5H380.4M375.5 121.2V131.8"/><path d="M377.6 123.5H387.4M382.5 118.2V128.8"/><path d="M383.6 138.5H393.4M388.5 133.2V143.8"/><path d="M389.6 170.5H399.4M394.5 165.2V175.8"/><path d="M395.6 206.5H405.4M400.5 201.2V211.8"/><path d="M401.6 233.5H411.4M406.5 228.2V238.8"/><path d="M407.6 241.5H417.4M412.5 236.2V246.8"/><path d="M413.6 242.5H423.4M418.5 237.2V247.8"/><path d="M419.6 242.5H429.4M424.5 237.2V247.8"/><path d="M425.6 241.5H435.4M430.5 236.2V246.8"/><path d="M431.6 239.5H441.4M436.5 234.2V244.8"/><path d="M437.6 237.5H447.4M442.5 232.2V242.8"/><path d="M443.6 233.5H453.4M448.5 228.2V238.8"/><path d="M449.6 229.5H459.4M454.5 224.2V234.8"/><path d="M455.6 222.5H465.4M460.5 217.2V227.8"/><path d="M461.6 213.5H471.4M466.5 208.2V218.8"/><path d="M467.6 200.5H477.4M472.5 195.2V205.8"/><path d="M474.6 182.5H484.4M479.5 177.2V187.8"/><path d="M480.6 160.5H490.4M485.5 155.2V165.8"/><path d="M486.6 138.5H496.4M491.5 133.2V143.8"/><path d="M492.6 124.5H502.4M497.5 119.2V129.8"/><path d="M498.6 125.5H508.4M503.5 120.2V130.8"/><path d="M504.6 146.5H514.4M509.5 141.2V151.8"/><path d="M510.6 180.5H520.4M515.5 175.2V185.8"/><path d="M516.6 214.5H526.4M521.5 209.2V219.8"/><path d="M522.6 235.5H532.4M527.5 230.2V240.8"/><path d="M528.6 242.5H538.4M533.5 237.2V247.8"/><path d="M534.6 243.5H544.4M539.5 238.2V248.8"/><path d="M540.6 242.5H550.4M545.5 237.2V247.8"/><path d="M546.6 240.5H556.4M551.5 235.2V245.8"/><path d="M552.6 239.5H562.4M557.5 234.2V244.8"/><path d="M558.6 236.5H568.4M563.5 231.2V241.8"/><path d="M564.6 233.5H574.4M569.5 228.2V238.8"/><path d="M571.6 227.5H581.4M576.5 222.2V232.8"/><path d="M577.6 219.5H587.4M582.5 214.2V224.8"/><path d="M583.6 209.5H593.4M588.5 204.2V214.8"/><path d="M589.6 195.5H599.4M594.5 190.2V200.8"/><path d="M595.6 177.5H605.4M600.5 172.2V182.8"/><path d="M601.6 154.5H611.4M606.5 149.2V159.8"/><path d="M607.6 132.5H617.4M612.5 127.2V137.8"/><path d="M613.6 123.5H623.4M618.5 118.2V128.8"/><path d="M619.6 128.5H629.4M624.5 123.2V133.8"/><path d="M625.6 153.5H635.4M630.5 148.2V158.8"/><path d="M631.6 190.5H641.4M636.5 185.2V195.8"/><path d="M637.6 222.5H647.4M642.5 217.2V227.8"/></g></g>
<g stroke="#ee2026" fill="none"><line x1="649" y1="57.8" x2="678" y2="57.8" stroke-width="2"/><g stroke-width="1.1"><path d="M663.50 53.50L668.20 60.00L658.80 60.00Z"/></g></g>
<g stroke="#28789e" fill="none"><line x1="649" y1="79.8" x2="678" y2="79.8" stroke-width="2"/><g stroke-width="1.1"><circle cx="663.5" cy="79.8" r="3.45"/></g></g>
<g stroke="#fbaa27" fill="none"><line x1="649" y1="101.8" x2="678" y2="101.8" stroke-width="2"/><g stroke-width="1.1"><rect x="660.5" y="98.5" width="7" height="7"/></g></g>
<g stroke="#37a13c" fill="none"><line x1="649" y1="123.8" x2="678" y2="123.8" stroke-width="2"/><g stroke-width="1.1"><path d="M658.6 123.5H668.4M663.5 118.2V128.8"/></g></g>
<rect x="485.6" y="358.35" width="153.7" height="125.95" fill="#fff" stroke="#111" stroke-width="1.3"/>
<g stroke="#ee2026" fill="none"><line x1="490.7" y1="376.0" x2="519.6" y2="376.0" stroke-width="1.75"/><g stroke-width="1.1"><path d="M505.00 371.70L509.70 378.20L500.30 378.20Z"/></g></g><text transform="translate(524.3 382.9) scale(0.965 1)" style="font-size:18.3px" text-anchor="start">Orifice 1.8mm</text>
<g stroke="#28789e" fill="none"><line x1="490.7" y1="406.1" x2="519.6" y2="406.1" stroke-width="1.75"/><g stroke-width="1.1"><circle cx="505.0" cy="406.1" r="3.45"/></g></g><text transform="translate(524.3 413.0) scale(0.965 1)" style="font-size:18.3px" text-anchor="start">Orifice 2.0mm</text>
<g stroke="#fbaa27" fill="none"><line x1="490.7" y1="436.3" x2="519.6" y2="436.3" stroke-width="1.75"/><g stroke-width="1.1"><rect x="501.5" y="432.5" width="7" height="7"/></g></g><text transform="translate(524.3 443.2) scale(0.965 1)" style="font-size:18.3px" text-anchor="start">Orifice 2.2mm</text>
<g stroke="#37a13c" fill="none"><line x1="490.7" y1="466.4" x2="519.6" y2="466.4" stroke-width="1.75"/><g stroke-width="1.1"><path d="M499.6 466.5H509.4M504.5 461.2V471.8"/></g></g><text transform="translate(524.3 473.3) scale(0.965 1)" style="font-size:18.3px" text-anchor="start">Orifice 2.5mm</text>
</svg></body></html>
